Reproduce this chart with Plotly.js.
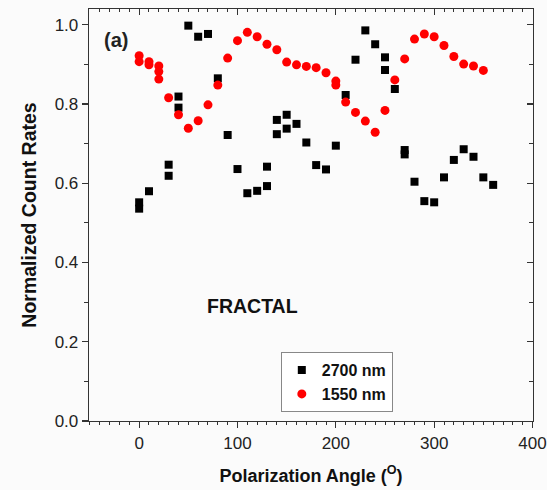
<!DOCTYPE html>
<html>
<head>
<meta charset="utf-8">
<script src="https://cdn.plot.ly/plotly-3.0.1.min.js"></script>
<style>html,body{margin:0;padding:0;background:#fbfbfb;}#chart{width:547px;height:490px;}</style>
</head>
<body>
<div id="chart"></div>
<script>
// 2700 nm series (black squares)
var angle2700 = [0,0,10,30,30,40,40,50,60,70,80,90,100,110,120,130,130,140,140,150,150,160,170,180,190,200,210,220,230,240,250,250,260,270,270,280,290,300,310,320,330,340,350,360];
var rate2700  = [0.552,0.536,0.580,0.647,0.619,0.819,0.791,0.998,0.970,0.977,0.865,0.722,0.636,0.575,0.581,0.642,0.593,0.760,0.724,0.773,0.738,0.750,0.703,0.646,0.635,0.695,0.823,0.912,0.986,0.951,0.918,0.886,0.838,0.684,0.673,0.604,0.555,0.552,0.615,0.659,0.686,0.667,0.615,0.596];
// 1550 nm series (red circles)
var angle1550 = [0,0,10,10,20,20,20,30,40,50,60,70,80,90,100,110,120,130,140,150,160,170,180,190,200,200,210,220,230,240,250,260,270,280,290,300,310,320,330,340,350];
var rate1550  = [0.922,0.907,0.907,0.899,0.896,0.882,0.863,0.816,0.773,0.739,0.758,0.798,0.848,0.916,0.960,0.981,0.970,0.951,0.937,0.906,0.899,0.895,0.892,0.879,0.858,0.848,0.805,0.779,0.757,0.729,0.784,0.861,0.914,0.964,0.977,0.970,0.948,0.920,0.901,0.896,0.885];
var seriesNames = ["2700 nm", "1550 nm"];
var xTicks = [0,100,200,300,400];
var yTicks = [0.0,0.2,0.4,0.6,0.8,1.0];
var yTickText = ["0.0","0.2","0.4","0.6","0.8","1.0"];

var font = "Arial, 'Liberation Sans', sans-serif";
var xr = [-51, 400.5], yr = [0, 1.04];

var traces = [
  {x: angle2700, y: rate2700, type: "scatter", mode: "markers", name: "<b>" + seriesNames[0] + "</b>",
   marker: {symbol: "square", size: 8, color: "#000000"}},
  {x: angle1550, y: rate1550, type: "scatter", mode: "markers", name: "<b>" + seriesNames[1] + "</b>",
   marker: {symbol: "circle", size: 9, color: "#ff0000"}},
  {x: [], y: [], xaxis: "x2", yaxis: "y2", type: "scatter", mode: "markers", showlegend: false, hoverinfo: "skip"}
];

var layout = {
  width: 547, height: 490,
  margin: {l: 89, r: 14, t: 9, b: 69},
  paper_bgcolor: "#fbfbfb", plot_bgcolor: "#fbfbfb",
  font: {family: font, color: "#222"},
  showlegend: true,
  legend: {x: 0.432, y: 0.167, xanchor: "left", yanchor: "top",
    bgcolor: "#ffffff", bordercolor: "#888", borderwidth: 1,
    font: {family: font, size: 16, color: "#111"}, tracegroupgap: 0},
  xaxis: {range: xr, showgrid: false, zeroline: false, showline: true, linecolor: "#333", linewidth: 1.3,
    ticks: "outside", ticklen: 6, tickwidth: 1.2, tickcolor: "#333",
    tickvals: xTicks, ticktext: xTicks.map(String),
    minor: {dtick: 10, ticks: "outside", ticklen: 3, tickwidth: 1, tickcolor: "#333"},
    tickfont: {family: font, size: 17, color: "#222"},
    title: {text: "<b>Polarization Angle (<sup>O</sup>)</b>", font: {family: font, size: 18, color: "#111"}, standoff: 17}},
  yaxis: {range: yr, showgrid: false, zeroline: false, showline: true, linecolor: "#333", linewidth: 1.3,
    ticks: "outside", ticklen: 6, tickwidth: 1.2, tickcolor: "#333",
    tickvals: yTicks, ticktext: yTickText,
    minor: {dtick: 0.1, ticks: "outside", ticklen: 4, tickwidth: 1, tickcolor: "#333"},
    tickfont: {family: font, size: 17, color: "#222"},
    title: {text: "<b>Normalized Count Rates</b>", font: {family: font, size: 19.5, color: "#111"}, standoff: 12}},
  xaxis2: {range: xr, overlaying: "x", side: "top", anchor: "y2", showgrid: false, zeroline: false,
    showline: true, linecolor: "#333", linewidth: 1.3, showticklabels: false,
    ticks: "inside", ticklen: 6, tickwidth: 1.2, tickcolor: "#333", tickvals: xTicks,
    minor: {dtick: 10, ticks: "inside", ticklen: 3, tickwidth: 1, tickcolor: "#333"}},
  yaxis2: {range: yr, overlaying: "y", side: "right", anchor: "x2", showgrid: false, zeroline: false,
    showline: true, linecolor: "#333", linewidth: 1.3, showticklabels: false,
    ticks: "inside", ticklen: 6, tickwidth: 1.2, tickcolor: "#333", tickvals: yTicks,
    minor: {dtick: 0.1, ticks: "inside", ticklen: 4, tickwidth: 1, tickcolor: "#333"}},
  annotations: [
    {text: "<b>(a)</b>", xref: "paper", yref: "paper", x: 0.03, y: 0.925, xanchor: "left", yanchor: "middle",
     showarrow: false, font: {family: font, size: 20, color: "#222"}},
    {text: "<b>FRACTAL</b>", xref: "paper", yref: "paper", x: 0.262, y: 0.28, xanchor: "left", yanchor: "middle",
     showarrow: false, font: {family: font, size: 19.5, color: "#111"}}
  ]
};

Plotly.newPlot("chart", traces, layout, {displayModeBar: false, staticPlot: true});
</script>
</body>
</html>
